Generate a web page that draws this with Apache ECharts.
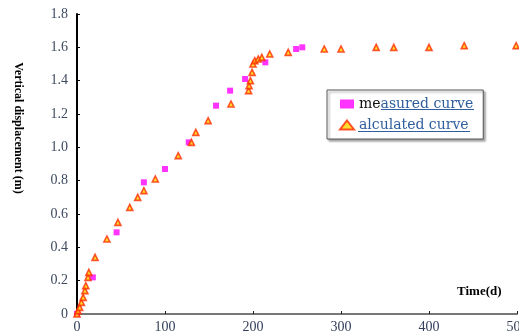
<!DOCTYPE html>
<html>
<head>
<meta charset="utf-8">
<script src="https://cdn.jsdelivr.net/npm/echarts@6/dist/echarts.min.js"></script>
<style>
  html, body { margin: 0; padding: 0; background: #fff; }
  #chart { width: 519px; height: 332px; }
</style>
</head>
<body>
<div id="chart"></div>
<script>
// time (d), vertical displacement (m)
var measuredTime = [0, 18, 45, 76, 100, 127, 158, 174, 191, 214, 249, 256];
var measuredDisp = [0, 0.22, 0.49, 0.79, 0.87, 1.03, 1.25, 1.34, 1.41, 1.51, 1.59, 1.60];

var calcTime = [0, 1, 3, 5, 7, 9, 10, 12.5, 13.5, 20.5, 34, 46.5, 60, 69, 76, 89, 115, 130, 135,
  149, 175, 195, 195.5, 197, 199, 200, 202, 206, 210, 219, 240, 281, 300, 340, 360, 400, 440, 499];
var calcDisp = [0, 0.02, 0.04, 0.07, 0.10, 0.14, 0.17, 0.22, 0.25, 0.34, 0.45, 0.55, 0.64, 0.70, 0.74, 0.81, 0.95, 1.03, 1.09,
  1.16, 1.26, 1.34, 1.37, 1.40, 1.45, 1.50, 1.52, 1.53, 1.54, 1.56, 1.57, 1.59, 1.59, 1.60, 1.60, 1.60, 1.61, 1.61];

function pairs(xs, ys) {
  var out = [];
  for (var i = 0; i < xs.length; i++) {
    out.push([xs[i], ys[i]]);
  }
  return out;
}

var chartDom = document.getElementById("chart");
var myChart = echarts.init(chartDom);
var option;

option = {
  backgroundColor: "#fff",
  animation: false,
  grid: {
    left: 77,
    right: 2,
    top: 14,
    bottom: 18,
    outerBoundsMode: "none",
  },
  xAxis: {
    type: "value",
    min: 0,
    max: 500,
    interval: 100,
    splitLine: { show: false },
    axisLine: { lineStyle: { color: "#777", width: 2 } },
    axisTick: { inside: true, length: 3, lineStyle: { color: "#222" } },
    axisLabel: {
      margin: 6,
      color: "#34405a",
      fontFamily: "Liberation Serif",
      fontSize: 14,
      showMaxLabel: true,
    },
  },
  yAxis: {
    type: "value",
    min: 0,
    max: 1.8,
    interval: 0.2,
    splitLine: { show: false },
    axisLine: { show: true, lineStyle: { color: "#000", width: 2 } },
    axisTick: { show: true, inside: true, length: 3, lineStyle: { color: "#000" } },
    axisLabel: {
      margin: 9,
      color: "#3d4a60",
      fontFamily: "Liberation Serif",
      fontSize: 14,
      formatter: function (v) {
        return v === 0 ? "0" : v.toFixed(1);
      },
    },
  },
  legend: {
    orient: "vertical",
    left: 327,
    top: 90,
    padding: [7, 10, 7, 12],
    itemGap: 7,
    itemWidth: 14,
    itemHeight: 9,
    backgroundColor: "#fff",
    borderColor: "#555",
    borderWidth: 1,
    borderRadius: 0,
    shadowColor: "rgba(0,0,0,0.35)",
    shadowOffsetX: 2,
    shadowOffsetY: 2,
    shadowBlur: 2,
    data: [
      { name: "measured curve", icon: "rect" },
      { name: "alculated curve", icon: "triangle" },
    ],
    formatter: function (name) {
      if (name === "measured curve") {
        return "{k|me}{u|asured curve}";
      }
      return "{u|" + name + "}";
    },
    textStyle: {
      fontFamily: "DejaVu Serif",
      fontSize: 14,
      rich: {
        k: { color: "#111", fontFamily: "DejaVu Serif", fontSize: 14 },
        u: { color: "#2f5e9e", fontFamily: "DejaVu Serif", fontSize: 14 },
      },
    },
  },
  graphic: [
    {
      type: "text",
      x: 18,
      y: 128,
      rotation: -Math.PI / 2,
      style: {
        text: "Vertical displacement (m)",
        font: 'bold 12px "Liberation Serif"',
        fill: "#000",
        textAlign: "center",
        textVerticalAlign: "middle",
      },
    },
    {
      type: "text",
      x: 457,
      y: 292,
      style: {
        text: "Time(d)",
        font: 'bold 13px "Liberation Serif"',
        fill: "#000",
        textAlign: "left",
        textVerticalAlign: "middle",
      },
    },
    // underline of the hyperlink-like legend text
    {
      type: "line",
      z: 10,
      shape: { x1: 381, y1: 109.5, x2: 474, y2: 109.5 },
      style: { stroke: "#2f5e9e", lineWidth: 1 },
    },
    {
      type: "line",
      z: 10,
      shape: { x1: 358, y1: 131.5, x2: 470, y2: 131.5 },
      style: { stroke: "#2f5e9e", lineWidth: 1 },
    },
  ],
  series: [
    {
      name: "measured curve",
      type: "scatter",
      symbol: "rect",
      symbolSize: 6,
      itemStyle: { color: "#ff00ff" },
      data: pairs(measuredTime, measuredDisp),
    },
    {
      name: "alculated curve",
      type: "scatter",
      symbol: "triangle",
      symbolSize: 6,
      itemStyle: {
        color: "#ffd400",
        borderColor: "#ff2a00",
        borderWidth: 1.6,
      },
      data: pairs(calcTime, calcDisp),
    },
  ],
};

option && myChart.setOption(option);
</script>
</body>
</html>
